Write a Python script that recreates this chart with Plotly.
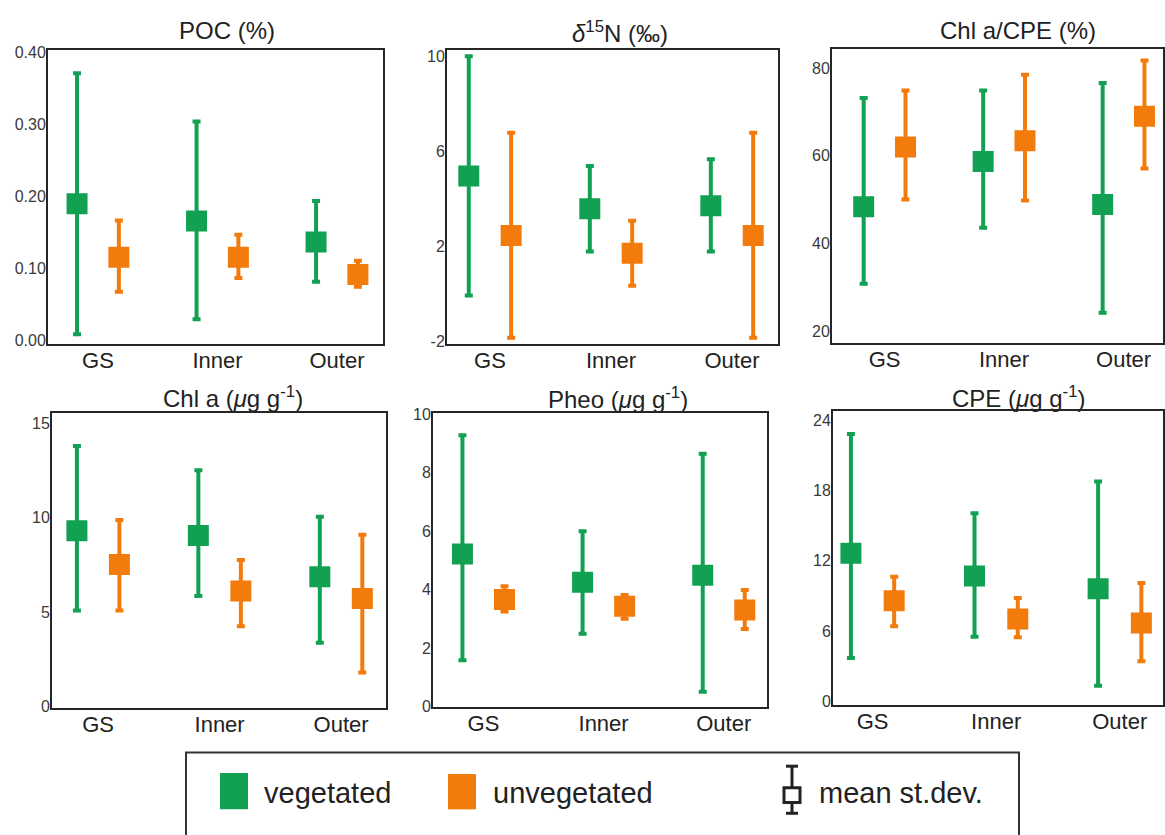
import plotly.graph_objects as go

W, H = 1165, 835

categories = ["GS", "Inner", "Outer"]

# ---- POC (%)
poc_veg_mean = [0.190, 0.166, 0.137]
poc_veg_low = [0.009, 0.030, 0.082]
poc_veg_high = [0.371, 0.304, 0.194]
poc_unveg_mean = [0.116, 0.116, 0.092]
poc_unveg_low = [0.068, 0.087, 0.075]
poc_unveg_high = [0.167, 0.147, 0.111]
poc_ticks = [0.0, 0.1, 0.2, 0.3, 0.4]
poc_ticktext = ["0.00", "0.10", "0.20", "0.30", "0.40"]

# ---- d15N (permil)
d15n_veg_mean = [4.96, 3.58, 3.71]
d15n_veg_low = [-0.06, 1.79, 1.79]
d15n_veg_high = [10.0, 5.38, 5.67]
d15n_unveg_mean = [2.46, 1.71, 2.46]
d15n_unveg_low = [-1.84, 0.35, -1.84]
d15n_unveg_high = [6.78, 3.08, 6.78]
d15n_ticks = [-2, 2, 6, 10]
d15n_ticktext = ["-2", "2", "6", "10"]

# ---- Chl a / CPE (%)
ratio_veg_mean = [48.4, 58.7, 48.9]
ratio_veg_low = [30.8, 43.6, 24.2]
ratio_veg_high = [73.2, 74.9, 76.6]
ratio_unveg_mean = [62.0, 63.4, 69.0]
ratio_unveg_low = [50.0, 49.8, 57.1]
ratio_unveg_high = [74.9, 78.5, 81.7]
ratio_ticks = [20, 40, 60, 80]
ratio_ticktext = ["20", "40", "60", "80"]

# ---- Chl a (ug/g)
chla_veg_mean = [9.29, 9.05, 6.86]
chla_veg_low = [5.08, 5.84, 3.37]
chla_veg_high = [13.78, 12.49, 10.03]
chla_unveg_mean = [7.51, 6.11, 5.71]
chla_unveg_low = [5.08, 4.24, 1.80]
chla_unveg_high = [9.87, 7.75, 9.08]
chla_ticks = [0, 5, 10, 15]
chla_ticktext = ["0", "5", "10", "15"]

# ---- Pheo (ug/g)
pheo_veg_mean = [5.21, 4.25, 4.49]
pheo_veg_low = [1.58, 2.49, 0.50]
pheo_veg_high = [9.27, 5.99, 8.64]
pheo_unveg_mean = [3.66, 3.43, 3.30]
pheo_unveg_low = [3.25, 3.00, 2.65]
pheo_unveg_high = [4.11, 3.81, 3.98]
pheo_ticks = [0, 2, 4, 6, 8, 10]
pheo_ticktext = ["0", "2", "4", "6", "8", "10"]

# ---- CPE (ug/g)
cpe_veg_mean = [12.63, 10.70, 9.62]
cpe_veg_low = [3.70, 5.52, 1.34]
cpe_veg_high = [22.79, 16.05, 18.76]
cpe_unveg_mean = [8.58, 7.04, 6.70]
cpe_unveg_low = [6.42, 5.47, 3.44]
cpe_unveg_high = [10.64, 8.82, 10.10]
cpe_ticks = [0, 6, 12, 18, 24]
cpe_ticktext = ["0", "6", "12", "18", "24"]

legend_labels = ["vegetated", "unvegetated", "mean st.dev."]

GREEN = "#12a052"
ORANGE = "#f27b0c"
FONT = "Liberation Sans, Arial, sans-serif"
OFFSET = 0.175


def px_x(x):
    return x / W


def px_y(y):
    return 1 - y / H


panels = [
    dict(title="POC (%)", tx=227, ty=23,
         veg=(poc_veg_mean, poc_veg_low, poc_veg_high),
         unveg=(poc_unveg_mean, poc_unveg_low, poc_unveg_high),
         ticks=poc_ticks, ticktext=poc_ticktext,
         yrange=[-0.005, 0.403], xrange=[-0.418, 2.385],
         box=(48, 383, 43, 343)),
    dict(title="<i>δ</i><sup>15</sup>N (‰)", tx=620, ty=24,
         veg=(d15n_veg_mean, d15n_veg_low, d15n_veg_high),
         unveg=(d15n_unveg_mean, d15n_unveg_low, d15n_unveg_high),
         ticks=d15n_ticks, ticktext=d15n_ticktext,
         yrange=[-2.12, 10.25], xrange=[-0.355, 2.38],
         box=(447, 778, 43, 343)),
    dict(title="Chl a/CPE (%)", tx=1018, ty=23,
         veg=(ratio_veg_mean, ratio_veg_low, ratio_veg_high),
         unveg=(ratio_unveg_mean, ratio_unveg_low, ratio_unveg_high),
         ticks=ratio_ticks, ticktext=ratio_ticktext,
         yrange=[17.2, 84.3], xrange=[-0.44, 2.33],
         box=(832, 1163, 42, 342)),
    dict(title="Chl a (<i>μ</i>g g<sup>-1</sup>)", tx=233, ty=397,
         veg=(chla_veg_mean, chla_veg_low, chla_veg_high),
         unveg=(chla_unveg_mean, chla_unveg_low, chla_unveg_high),
         ticks=chla_ticks, ticktext=chla_ticktext,
         yrange=[-0.10, 15.52], xrange=[-0.38, 2.37],
         box=(52, 386, 413, 714)),
    dict(title="Pheo (<i>μ</i>g g<sup>-1</sup>)", tx=618, ty=398,
         veg=(pheo_veg_mean, pheo_veg_low, pheo_veg_high),
         unveg=(pheo_unveg_mean, pheo_unveg_low, pheo_unveg_high),
         ticks=pheo_ticks, ticktext=pheo_ticktext,
         yrange=[-0.03, 10.03], xrange=[-0.42, 2.36],
         box=(433, 767, 413, 713)),
    dict(title="CPE (<i>μ</i>g g<sup>-1</sup>)", tx=1018, ty=397,
         veg=(cpe_veg_mean, cpe_veg_low, cpe_veg_high),
         unveg=(cpe_unveg_mean, cpe_unveg_low, cpe_unveg_high),
         ticks=cpe_ticks, ticktext=cpe_ticktext,
         yrange=[-0.33, 24.75], xrange=[-0.32, 2.35],
         box=(833, 1163, 411, 711)),
]

fig = go.Figure()
layout = dict(
    width=W, height=H,
    margin=dict(l=0, r=0, t=0, b=0),
    paper_bgcolor="white", plot_bgcolor="white",
    showlegend=False,
    font=dict(family=FONT, color="#222"),
)
annotations = []
shapes = []

xpos = list(range(len(categories)))

for i, p in enumerate(panels, start=1):
    xa = "x" if i == 1 else f"x{i}"
    ya = "y" if i == 1 else f"y{i}"
    for (mean, low, high), col, sgn in ((p["veg"], GREEN, -1), (p["unveg"], ORANGE, 1)):
        fig.add_trace(go.Scatter(
            x=[c + sgn * OFFSET for c in xpos], y=mean,
            mode="markers", xaxis=xa, yaxis=ya,
            marker=dict(symbol="square", size=21, color=col, line=dict(width=0)),
            error_y=dict(type="data", symmetric=False,
                         array=[h - m for h, m in zip(high, mean)],
                         arrayminus=[m - l for m, l in zip(mean, low)],
                         color=col, thickness=4, width=4),
        ))
    x0, x1, y0, y1 = p["box"]
    layout[f"xaxis{'' if i == 1 else i}"] = dict(
        domain=[px_x(x0), px_x(x1)], anchor=ya, range=p["xrange"],
        tickvals=xpos, ticktext=categories, ticks="",
        ticklabelstandoff=-5,
        showgrid=False, zeroline=False,
        showline=True, mirror=True, linecolor="#262626", linewidth=2,
        tickfont=dict(size=22, color="#222", family=FONT),
    )
    layout[f"yaxis{'' if i == 1 else i}"] = dict(
        domain=[px_y(y1), px_y(y0)], anchor=xa, range=p["yrange"],
        tickvals=p["ticks"], ticktext=p["ticktext"], ticks="",
        ticklabelstandoff=-3,
        showgrid=False, zeroline=False,
        showline=True, mirror=True, linecolor="#262626", linewidth=2,
        tickfont=dict(size=16, color="#3a3a3a", family=FONT),
    )
    annotations.append(dict(
        text=p["title"], x=px_x(p["tx"]), y=px_y(p["ty"]),
        xref="paper", yref="paper", xanchor="center", yanchor="middle",
        showarrow=False, font=dict(size=24, color="#222", family=FONT),
    ))

# ---- legend drawn as a framed key
shapes.append(dict(type="rect", xref="paper", yref="paper",
                   x0=px_x(186), x1=px_x(1019), y0=px_y(845), y1=px_y(759),
                   line=dict(color="#333", width=2), fillcolor="white", layer="below"))
shapes.append(dict(type="rect", xref="paper", yref="paper",
                   x0=px_x(220), x1=px_x(248), y0=px_y(817), y1=px_y(780),
                   line=dict(width=0), fillcolor=GREEN))
shapes.append(dict(type="rect", xref="paper", yref="paper",
                   x0=px_x(448), x1=px_x(476), y0=px_y(817), y1=px_y(781),
                   line=dict(width=0), fillcolor=ORANGE))
# mean / st.dev. icon
shapes.append(dict(type="line", xref="paper", yref="paper",
                   x0=px_x(792), x1=px_x(792), y0=px_y(772), y1=px_y(822),
                   line=dict(color="#222", width=3)))
for yy in (773, 821):
    shapes.append(dict(type="line", xref="paper", yref="paper",
                       x0=px_x(786), x1=px_x(798), y0=px_y(yy), y1=px_y(yy),
                       line=dict(color="#222", width=3)))
shapes.append(dict(type="rect", xref="paper", yref="paper",
                   x0=px_x(784), x1=px_x(800), y0=px_y(810), y1=px_y(795),
                   line=dict(color="#222", width=3), fillcolor="white"))

for label, lx in zip(legend_labels, (262, 491, 817)):
    annotations.append(dict(
        text=label, x=px_x(lx), y=px_y(800), xref="paper", yref="paper",
        xanchor="left", yanchor="middle", showarrow=False,
        font=dict(size=29, color="#222", family=FONT),
    ))

layout["annotations"] = annotations
layout["shapes"] = shapes
fig.update_layout(**layout)

fig.write_html("out.html")
